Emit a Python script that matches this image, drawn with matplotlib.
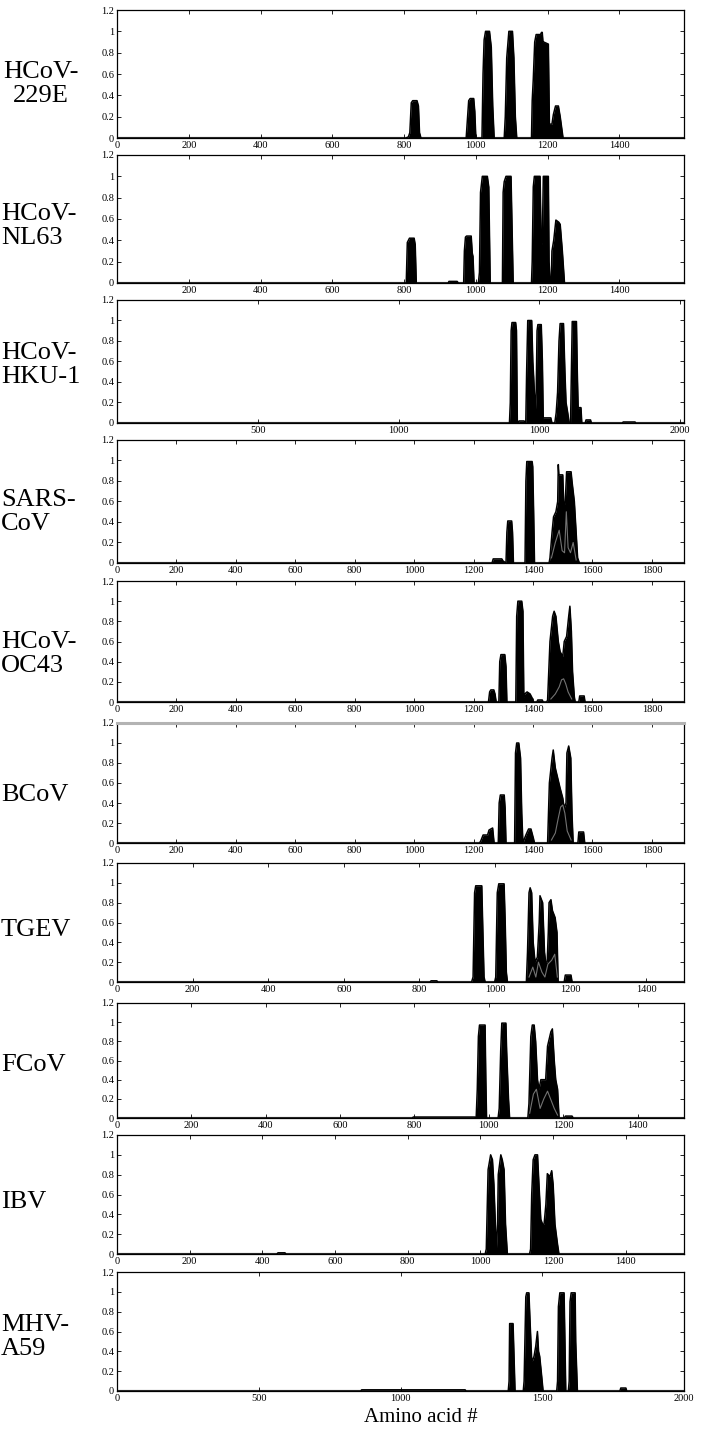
import numpy as np
import matplotlib.pyplot as plt

plt.rcParams['font.family'] = ['Liberation Serif', 'DejaVu Serif']

# coiled-coil probability outlines (amino acid #, probability)
hcov229e_x = [0, 805, 812, 816, 820, 824, 836, 840, 843, 847,
              973, 977, 980, 984, 994, 997, 1000,
              1017, 1020, 1023, 1027, 1038, 1043, 1047, 1051,
              1079, 1082, 1086, 1092, 1102, 1106, 1110, 1114,
              1155, 1157, 1160, 1164, 1168, 1180, 1183, 1185, 1187, 1189, 1202, 1205,
              1212, 1216, 1222, 1230, 1235, 1243, 1580]
hcov229e_y = [0, 0, 0.01, 0.05, 0.33, 0.35, 0.35, 0.3, 0.05, 0,
              0, 0.2, 0.35, 0.37, 0.37, 0.25, 0,
              0, 0.6, 0.92, 1.0, 1.0, 0.85, 0.3, 0,
              0, 0.2, 0.75, 1.0, 1.0, 0.75, 0.2, 0,
              0, 0.35, 0.55, 0.9, 0.97, 0.97, 0.99, 0.99, 0.9, 0.9, 0.88, 0.13,
              0.13, 0.22, 0.3, 0.3, 0.2, 0, 0]

nl63_x = [0, 806, 809, 812, 815, 828, 831, 834,
          923, 925, 948, 951,
          966, 968, 971, 974, 987, 990, 992, 995,
          1007, 1010, 1013, 1018, 1032, 1036, 1040,
          1074, 1076, 1079, 1084, 1098, 1101, 1104,
          1155, 1157, 1160, 1163, 1166, 1179, 1182, 1185, 1188, 1202, 1204, 1207,
          1210, 1212, 1217, 1223, 1231, 1235, 1241, 1247, 1580]
nl63_y = [0, 0, 0.38, 0.40, 0.42, 0.42, 0.36, 0,
          0, 0.015, 0.015, 0,
          0, 0.3, 0.43, 0.44, 0.44, 0.28, 0.25, 0,
          0, 0.1, 0.85, 1.0, 1.0, 0.9, 0,
          0, 0.85, 0.95, 1.0, 1.0, 0.5, 0,
          0, 0.2, 0.9, 1.0, 1.0, 1.0, 0.37, 0.37, 1.0, 1.0, 0.2, 0,
          0, 0.3, 0.4, 0.59, 0.57, 0.55, 0.3, 0, 0]

hku1_x = [0, 1394, 1397, 1400, 1403, 1416, 1419, 1422,
          1426, 1428, 1446, 1452,
          1455, 1459, 1473, 1477, 1480, 1486,
          1489, 1492, 1495, 1507, 1511, 1514, 1541, 1545,
          1555, 1560, 1565, 1570, 1574, 1586, 1591, 1595, 1601, 1606,
          1611, 1614, 1617, 1632, 1635, 1638, 1648, 1651,
          1663, 1666, 1682, 1685, 1795, 1798, 1840, 1843, 2014]
hku1_y = [0, 0, 0.2, 0.9, 0.98, 0.98, 0.9, 0,
          0, 0.02, 0.02, 0,
          0.5, 1.0, 1.0, 0.6, 0.45, 0.1,
          0.3, 0.9, 0.96, 0.96, 0.6, 0.05, 0.05, 0,
          0, 0.1, 0.3, 0.8, 0.97, 0.97, 0.5, 0.2, 0.1, 0,
          0, 0.5, 0.99, 0.99, 0.5, 0.15, 0.15, 0,
          0, 0.03, 0.03, 0, 0, 0.01, 0.01, 0, 0]

sars_x = [0, 1262, 1266, 1295, 1299,
          1309, 1312, 1315, 1328, 1331, 1334,
          1373, 1376, 1379, 1397, 1399, 1402, 1405,
          1454, 1457, 1464, 1469, 1477, 1483, 1485, 1487, 1500, 1503, 1508,
          1513, 1528, 1531, 1539, 1545, 1550, 1556, 1908]
sars_y = [0, 0, 0.04, 0.04, 0.02,
          0, 0.3, 0.41, 0.41, 0.3, 0,
          0, 0.8, 0.99, 0.99, 0.94, 0.5, 0,
          0, 0.05, 0.3, 0.45, 0.5, 0.6, 0.96, 0.86, 0.86, 0.6, 0.57,
          0.89, 0.89, 0.8, 0.6, 0.3, 0.05, 0, 0]
sars_inner_x = [1462, 1475, 1488, 1498, 1506, 1512, 1518, 1526, 1535, 1545]
sars_inner_y = [0.05, 0.2, 0.32, 0.12, 0.1, 0.5, 0.15, 0.1, 0.2, 0.03]

oc43_x = [0, 1250, 1254, 1258, 1268, 1272, 1276,
          1285, 1288, 1292, 1305, 1309, 1312,
          1342, 1345, 1349, 1362, 1366, 1369, 1372, 1380, 1390, 1397, 1401,
          1413, 1416, 1431, 1434,
          1446, 1449, 1457, 1466, 1471, 1477, 1485, 1491, 1500, 1505, 1513,
          1520, 1524, 1529, 1533, 1539, 1542,
          1554, 1557, 1572, 1575, 1908]
oc43_y = [0, 0, 0.1, 0.12, 0.12, 0.08, 0,
          0, 0.4, 0.47, 0.47, 0.35, 0,
          0, 0.85, 1.0, 1.0, 0.9, 0.05, 0.08, 0.1, 0.08, 0.04, 0,
          0, 0.02, 0.02, 0,
          0, 0.02, 0.6, 0.85, 0.9, 0.85, 0.6, 0.5, 0.45, 0.6, 0.65,
          0.85, 0.95, 0.7, 0.3, 0.05, 0,
          0, 0.06, 0.06, 0, 0]
oc43_inner_x = [1460, 1475, 1488, 1496, 1503, 1510, 1518, 1530]
oc43_inner_y = [0.03, 0.08, 0.15, 0.22, 0.23, 0.18, 0.1, 0.03]

bcov_x = [0, 1220, 1224, 1232, 1247, 1252, 1264, 1269,
          1283, 1286, 1290, 1303, 1306, 1309,
          1338, 1341, 1345, 1352, 1358, 1362, 1366,
          1372, 1376, 1385, 1393, 1401, 1405,
          1449, 1455, 1464, 1468, 1475, 1483, 1491, 1500, 1505, 1511,
          1514, 1520, 1527, 1531, 1535,
          1551, 1554, 1570, 1574, 1908]
bcov_y = [0, 0, 0.02, 0.08, 0.08, 0.13, 0.15, 0,
          0, 0.4, 0.48, 0.48, 0.35, 0,
          0, 0.9, 1.0, 1.0, 0.85, 0.3, 0,
          0.05, 0.08, 0.14, 0.14, 0.05, 0,
          0, 0.6, 0.85, 0.93, 0.75, 0.65, 0.55, 0.45, 0.35, 0.4,
          0.9, 0.97, 0.85, 0.3, 0,
          0, 0.11, 0.11, 0, 0]
bcov_inner_x = [1462, 1475, 1485, 1493, 1500, 1507, 1515, 1528]
bcov_inner_y = [0.03, 0.1, 0.25, 0.36, 0.38, 0.3, 0.12, 0.03]

tgev_x = [0, 828, 831, 846, 849,
          938, 942, 946, 949, 965, 968, 971, 974,
          999, 1002, 1006, 1010, 1024, 1027, 1030, 1033,
          1083, 1086, 1090, 1093, 1097, 1101, 1106, 1112,
          1117, 1119, 1126, 1131, 1134, 1138,
          1141, 1143, 1148, 1152, 1159, 1164, 1167,
          1183, 1186, 1201, 1204, 1500]
tgev_y = [0, 0, 0.012, 0.012, 0,
          0, 0.05, 0.9, 0.97, 0.97, 0.5, 0.05, 0,
          0, 0.05, 0.9, 0.99, 0.99, 0.6, 0.1, 0,
          0, 0.3, 0.9, 0.95, 0.9, 0.4, 0.2, 0.25,
          0.6, 0.87, 0.8, 0.3, 0.2, 0.2,
          0.5, 0.8, 0.83, 0.72, 0.65, 0.5, 0,
          0, 0.07, 0.07, 0, 0]
tgev_inner_x = [1090, 1100, 1108, 1115, 1124, 1132, 1140, 1150, 1158, 1165]
tgev_inner_y = [0.05, 0.15, 0.05, 0.2, 0.1, 0.05, 0.18, 0.22, 0.28, 0.05]

fcov_x = [0, 794, 797, 962, 965,
          966, 969, 972, 975, 990, 992, 994,
          1025, 1028, 1032, 1035, 1046, 1048, 1053, 1056,
          1105, 1108, 1113, 1117, 1122, 1126, 1131, 1135, 1140, 1153,
          1158, 1167, 1171, 1176, 1180, 1185, 1189,
          1203, 1206, 1224, 1227, 1525]
fcov_y = [0, 0, 0.01, 0.01, 0,
          0, 0.3, 0.85, 0.97, 0.97, 0.4, 0,
          0, 0.1, 0.7, 0.99, 0.99, 0.7, 0.2, 0,
          0, 0.15, 0.85, 0.97, 0.97, 0.8, 0.4, 0.3, 0.4, 0.4,
          0.75, 0.9, 0.93, 0.6, 0.4, 0.3, 0,
          0, 0.02, 0.02, 0, 0]
fcov_inner_x = [1110, 1120, 1128, 1138, 1148, 1158, 1166, 1176, 1185]
fcov_inner_y = [0.05, 0.25, 0.3, 0.1, 0.2, 0.28, 0.2, 0.1, 0.03]

ibv_x = [0, 440, 443, 462, 465,
         1013, 1016, 1021, 1028, 1033, 1037, 1042, 1044,
         1047, 1049, 1056, 1060, 1065, 1069, 1074,
         1135, 1138, 1141, 1145, 1150, 1157, 1161, 1166, 1171, 1175,
         1180, 1184, 1191, 1196, 1200, 1205, 1212, 1216, 1560]
ibv_y = [0, 0, 0.012, 0.012, 0,
         0, 0.05, 0.85, 1.0, 0.95, 0.7, 0.2, 0.05,
         0.3, 0.8, 1.0, 0.95, 0.85, 0.3, 0,
         0, 0.05, 0.6, 0.95, 1.0, 1.0, 0.7, 0.35, 0.3, 0.3,
         0.5, 0.81, 0.78, 0.84, 0.7, 0.3, 0.1, 0, 0]

mhv_x = [0, 860, 863, 1228, 1231,
         1380, 1383, 1385, 1397, 1402, 1404,
         1433, 1436, 1442, 1445, 1453, 1457, 1463,
         1465, 1471, 1477, 1483, 1487, 1491, 1498, 1503,
         1551, 1554, 1557, 1562, 1577, 1580, 1583,
         1592, 1595, 1598, 1602, 1616, 1618, 1624,
         1774, 1777, 1795, 1798, 2000]
mhv_y = [0, 0, 0.012, 0.012, 0,
         0, 0.1, 0.68, 0.68, 0.2, 0,
         0, 0.1, 0.95, 0.99, 0.99, 0.7, 0.3,
         0.3, 0.35, 0.45, 0.6, 0.4, 0.35, 0.15, 0,
         0, 0.1, 0.85, 0.99, 0.99, 0.5, 0,
         0, 0.1, 0.9, 0.99, 0.99, 0.5, 0,
         0, 0.03, 0.03, 0, 0]

names = ['HCoV-\n229E', 'HCoV-\nNL63', 'HCoV-\nHKU-1', 'SARS-\nCoV', 'HCoV-\nOC43',
         'BCoV', 'TGEV', 'FCoV', 'IBV', 'MHV-\nA59']
xs = [hcov229e_x, nl63_x, hku1_x, sars_x, oc43_x, bcov_x, tgev_x, fcov_x, ibv_x, mhv_x]
ys = [hcov229e_y, nl63_y, hku1_y, sars_y, oc43_y, bcov_y, tgev_y, fcov_y, ibv_y, mhv_y]
inner = {3: (sars_inner_x, sars_inner_y), 4: (oc43_inner_x, oc43_inner_y),
         5: (bcov_inner_x, bcov_inner_y), 6: (tgev_inner_x, tgev_inner_y),
         7: (fcov_inner_x, fcov_inner_y)}
xmax = [1580, 1580, 2014, 1908, 1908, 1908, 1500, 1525, 1560, 2000]

ticks_1400 = [0, 200, 400, 600, 800, 1000, 1200, 1400]
ticks_1800 = [0, 200, 400, 600, 800, 1000, 1200, 1400, 1600, 1800]
xticks = [ticks_1400, ticks_1400[1:], [500, 1000, 1500, 2000], ticks_1800, ticks_1800,
          ticks_1800, ticks_1400, ticks_1400, ticks_1400, [0, 500, 1000, 1500, 2000]]
xticklabels = [[str(t) for t in tk] for tk in xticks]
xticklabels[2] = ['500', '1000', '1000', '2000']

yticks = [0, 0.2, 0.4, 0.6, 0.8, 1.0, 1.2]
yticklabels = ['0', '0.2', '0.4', '0.6', '0.8', '1', '1.2']

# panel top / bottom edges in pixels, and label centre
tops = [10, 155, 300, 440, 581, 723, 863, 1003, 1135, 1272]
bots = [138, 283, 423, 563, 702, 843, 982, 1118, 1254, 1391]
label_y = [84, 226, 365, 512, 654, 795, 930, 1065, 1202, 1337]

W, H = 722, 1431
fig = plt.figure(figsize=(W / 100, H / 100), dpi=100)

for i in range(10):
    ax = fig.add_axes([117 / W, 1 - bots[i] / H, (684 - 117) / W, (bots[i] - tops[i]) / H])
    ax.axhline(0.006, color='0.7', lw=1.0, zorder=1)
    ax.fill_between(xs[i], ys[i], 0, color='black', lw=0, zorder=2)
    ax.plot(xs[i], ys[i], color='black', lw=1.1, zorder=3)
    if i in inner:
        ax.plot(inner[i][0], inner[i][1], color='0.45', lw=0.8, zorder=4)
    ax.set_xlim(0, xmax[i])
    ax.set_ylim(0, 1.2)
    ax.set_xticks(xticks[i])
    ax.set_xticklabels(xticklabels[i])
    ax.set_yticks(yticks)
    ax.set_yticklabels(yticklabels)
    ax.tick_params(direction='in', length=3, width=0.6, top=True, right=True,
                   labelsize=7.5, pad=2)
    for sp in ax.spines.values():
        sp.set_linewidth(0.9)
    if i == 5:
        ax.spines['top'].set_color('0.7')
        ax.spines['top'].set_linewidth(2.2)
    if i == 0:
        fig.text(41 / W, 1 - label_y[i] / H, names[i], ha='center', va='center',
                 multialignment='center', fontsize=19, linespacing=1.1)
    else:
        fig.text(1 / W, 1 - label_y[i] / H, names[i], ha='left', va='center',
                 multialignment='left', fontsize=19, linespacing=1.1)

fig.text(421 / W, 1 - 1418 / H, 'Amino acid #', ha='center', va='center', fontsize=15)

fig.savefig('out.png', dpi=100)
